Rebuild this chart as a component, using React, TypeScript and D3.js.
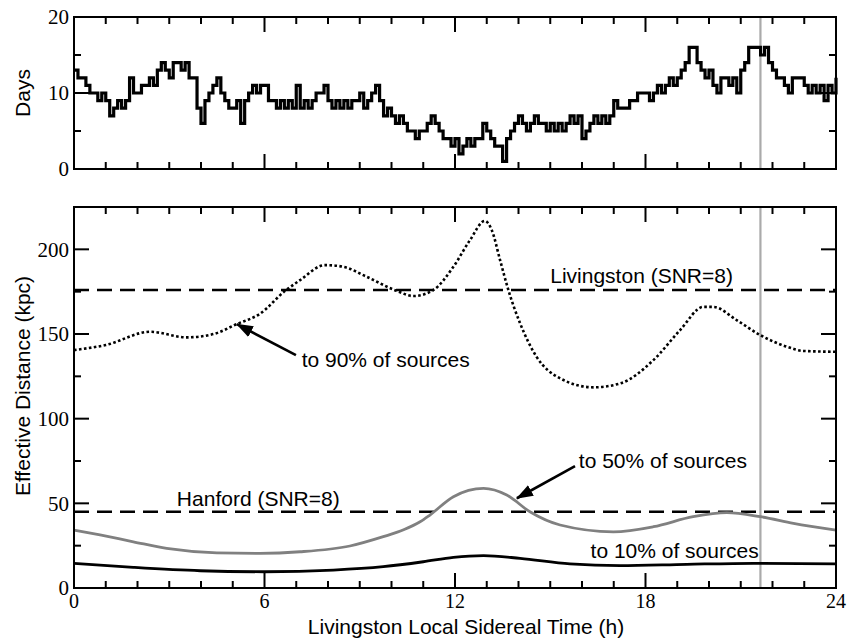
import React, { useEffect, useRef } from "react";
import * as d3 from "d3";

const dayStep = 0.125;
const daysVisible = [
  13, 12, 12, 11, 10, 10, 9, 10,
  9, 7, 8, 9, 8, 9, 12, 10,
  10, 11, 11, 12, 11, 13, 14, 13,
  12, 14, 14, 13, 14, 12, 12, 8,
  6, 9, 10, 11, 12, 10, 9, 8,
  8, 9, 6, 9, 10, 11, 10, 11,
  11, 9, 9, 8, 9, 8, 9, 8,
  11, 8, 9, 8, 9, 10, 10, 11,
  9, 8, 9, 8, 9, 8, 9, 9,
  10, 8, 9, 10, 11, 9, 7, 8,
  7, 6, 7, 6, 5, 5, 4, 5,
  5, 6, 7, 6, 5, 4, 4, 3,
  4, 2, 3, 4, 3, 4, 4, 6,
  5, 4, 3, 3, 1, 4, 5, 6,
  7, 6, 5, 6, 7, 6, 6, 5,
  6, 5, 6, 5, 6, 7, 6, 7,
  4, 5, 6, 7, 6, 7, 6, 7,
  9, 8, 8, 8, 9, 9, 10, 10,
  10, 9, 10, 11, 10, 11, 12, 11,
  12, 13, 14, 16, 16, 14, 13, 12,
  13, 11, 10, 12, 12, 11, 12, 10,
  13, 14, 16, 16, 16, 15, 16, 14,
  13, 12, 12, 11, 10, 12, 12, 12,
  11, 10, 11, 10, 11, 9, 11, 10,
  12,
];

// bottom panel: effective distance (kpc)
const p90Hours = [0, 1, 2.4, 3.55, 4.4, 5.12, 5.86, 6.65, 7.12, 7.9, 8.48, 9.22, 10.16, 10.69, 11.32, 11.95, 12.47, 12.94, 13.16, 13.42, 13.68, 14.05, 14.57, 15.31, 16.36, 17.2, 18.25, 19.09, 19.82, 20.14, 20.87, 21.62, 22.45, 22.97, 24];
const p90Kpc = [140.5, 143.5, 151.3, 148, 150, 155.8, 162, 175.5, 181.8, 190.7, 189.7, 183.8, 175.5, 172.4, 176, 189.7, 205.4, 216.8, 211.3, 193.6, 176, 156.3, 136.5, 123.8, 118.5, 120.8, 134.6, 152.3, 166, 166, 158.2, 149.3, 142.5, 140, 139.5];

const p50Hours = [0, 0.82, 1.87, 2.92, 4.5, 5.86, 7.12, 8.69, 9.74, 10.4, 10.9, 11.21, 11.95, 12.9, 13.63, 14.36, 15.31, 16.99, 18.25, 19.5, 20.56, 21.62, 22.66, 24];
const p50Kpc = [34.2, 31.3, 27.3, 23.4, 20.8, 20.5, 21.4, 24.8, 30.3, 34.5, 39.1, 43.1, 53.9, 58.8, 54.9, 45, 37.2, 33.2, 36.2, 42.1, 44.5, 42.1, 38.2, 34.2];

const p10Hours = [0, 1.87, 3.97, 6, 8.17, 9.74, 11, 11.95, 12.9, 14.05, 15.62, 17.2, 19.3, 21.4, 24];
const p10Kpc = [14.6, 12.2, 10.2, 9.6, 10.6, 12.6, 15.5, 18.1, 19.1, 17.5, 14.2, 13.2, 14, 14.6, 14.2];

const livingstonSnr8 = 176;
const hanfordSnr8 = 45;
const markerHour = 21.62;

const xTickLabels = [0, 6, 12, 18, 24];
const daysTickLabels = [0, 10, 20];
const distTickLabels = [0, 50, 100, 150, 200];

const serif = "'Liberation Serif', 'Times New Roman', serif";
const sans = "'Liberation Sans', Arial, Helvetica, sans-serif";

export default function App() {
  const svgRef = useRef<SVGSVGElement>(null);

  useEffect(() => {
    if (!svgRef.current) return;
    const svg = d3.select(svgRef.current);
    svg.selectAll("*").remove();

    const x = d3.scaleLinear().domain([0, 24]).range([74, 836]);
    const yTop = d3.scaleLinear().domain([0, 20]).range([169, 17]);
    const yBot = d3.scaleLinear().domain([0, 225]).range([588, 207]);

    svg.append("defs").append("marker")
      .attr("id", "head")
      .attr("markerUnits", "userSpaceOnUse")
      .attr("markerWidth", 18).attr("markerHeight", 14)
      .attr("refX", 16).attr("refY", 6)
      .attr("orient", "auto")
      .append("path").attr("d", "M0,0 L17,6 L0,12 Z").attr("fill", "#000");

    const drawFrame = (y: d3.ScaleLinear<number, number>, minor: number, major: number) => {
      const [yb, yt] = y.range();
      const [xl, xr] = x.range();
      const g = svg.append("g").attr("stroke", "#000").attr("stroke-width", 2);
      d3.range(1, 24).forEach(h => {
        const len = h % 6 === 0 ? 15 : 7;
        g.append("line").attr("x1", x(h)).attr("x2", x(h)).attr("y1", yb).attr("y2", yb - len);
        g.append("line").attr("x1", x(h)).attr("x2", x(h)).attr("y1", yt).attr("y2", yt + len);
      });
      const top = y.domain()[1];
      d3.range(minor, top, minor).forEach(v => {
        const len = Math.abs(v % major) < 1e-6 ? 15 : 7;
        g.append("line").attr("x1", xl).attr("x2", xl + len).attr("y1", y(v)).attr("y2", y(v));
        g.append("line").attr("x1", xr).attr("x2", xr - len).attr("y1", y(v)).attr("y2", y(v));
      });
      g.append("rect").attr("x", xl).attr("y", yt).attr("width", xr - xl).attr("height", yb - yt)
        .attr("fill", "none");
    };

    const marker = (y: d3.ScaleLinear<number, number>) => {
      const [yb, yt] = y.range();
      svg.append("line").attr("x1", x(markerHour)).attr("x2", x(markerHour))
        .attr("y1", yb).attr("y2", yt).attr("stroke", "#aaaaaa").attr("stroke-width", 2.2);
    };

    // ---- top panel
    marker(yTop);
    const stepLine = d3.line<number>()
      .x((_, i) => x(i * dayStep))
      .y(d => yTop(d))
      .curve(d3.curveStepAfter);
    svg.append("path").datum(daysVisible)
      .attr("d", stepLine).attr("fill", "none").attr("stroke", "#000").attr("stroke-width", 3.2);
    drawFrame(yTop, 5, 10);

    daysTickLabels.forEach(v => {
      svg.append("text").attr("x", 69).attr("y", yTop(v)).attr("dy", "0.35em")
        .attr("text-anchor", "end").style("font-family", serif).style("font-size", "21px").text(v);
    });
    svg.append("text").attr("transform", `translate(30,${(yTop(0) + yTop(20)) / 2}) rotate(-90)`)
      .attr("text-anchor", "middle").style("font-family", sans).style("font-size", "21px").text("Days");

    // ---- bottom panel
    marker(yBot);
    [livingstonSnr8, hanfordSnr8].forEach(v => {
      svg.append("line").attr("x1", x(0)).attr("x2", x(24)).attr("y1", yBot(v)).attr("y2", yBot(v))
        .attr("stroke", "#000").attr("stroke-width", 2.4).attr("stroke-dasharray", "15 8");
    });

    const curve = (hours: number[], vals: number[]) =>
      d3.line<number>().x((_, i) => x(hours[i])).y(d => yBot(d)).curve(d3.curveMonotoneX)(vals);

    svg.append("path").attr("d", curve(p90Hours, p90Kpc)).attr("fill", "none")
      .attr("stroke", "#000").attr("stroke-width", 2.6).attr("stroke-dasharray", "2.6 2.4");
    svg.append("path").attr("d", curve(p50Hours, p50Kpc)).attr("fill", "none")
      .attr("stroke", "#808080").attr("stroke-width", 2.8);
    svg.append("path").attr("d", curve(p10Hours, p10Kpc)).attr("fill", "none")
      .attr("stroke", "#000").attr("stroke-width", 2.8);

    const label = (h: number, v: number, s: string) =>
      svg.append("text").attr("x", x(h)).attr("y", yBot(v))
        .style("font-family", sans).style("font-size", "21px").text(s);
    label(15.0, 180, "Livingston (SNR=8)");
    label(3.24, 48.4, "Hanford (SNR=8)");
    label(7.17, 130.6, "to 90% of sources");
    label(15.9, 70.8, "to 50% of sources");
    label(16.27, 17.7, "to 10% of sources");

    const arrow = (h0: number, v0: number, h1: number, v1: number) =>
      svg.append("line").attr("x1", x(h0)).attr("y1", yBot(v0)).attr("x2", x(h1)).attr("y2", yBot(v1))
        .attr("stroke", "#000").attr("stroke-width", 2.6).attr("marker-end", "url(#head)");
    arrow(6.99, 137.5, 5.13, 155.8);
    arrow(15.78, 72, 13.95, 53);

    drawFrame(yBot, 25, 50);

    distTickLabels.forEach(v => {
      svg.append("text").attr("x", 69).attr("y", yBot(v)).attr("dy", "0.35em")
        .attr("text-anchor", "end").style("font-family", serif).style("font-size", "21px").text(v);
    });
    xTickLabels.forEach(h => {
      svg.append("text").attr("x", x(h)).attr("y", 608)
        .attr("text-anchor", "middle").style("font-family", serif).style("font-size", "20px").text(h);
    });
    svg.append("text").attr("transform", `translate(30,386) rotate(-90)`)
      .attr("text-anchor", "middle").style("font-family", sans).style("font-size", "21px")
      .text("Effective Distance (kpc)");
    svg.append("text").attr("x", 466).attr("y", 634).attr("text-anchor", "middle")
      .style("font-family", sans).style("font-size", "21px").text("Livingston Local Sidereal Time (h)");
  }, []);

  return (
    <div style={{ position: "absolute", left: 0, top: 0 }}>
      <svg ref={svgRef} width={847} height={638} style={{ display: "block", background: "#fff" }} />
    </div>
  );
}
